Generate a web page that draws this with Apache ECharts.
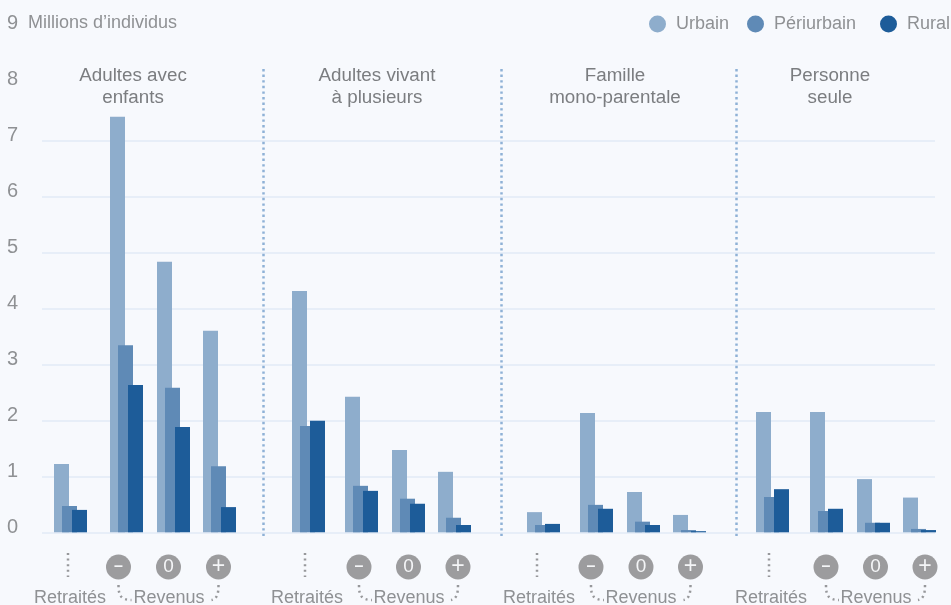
<!DOCTYPE html>
<html><head><meta charset="utf-8">
<style>html,body{margin:0;padding:0;background:#f7f9fd}#c{width:951px;height:605px}</style>
<script src="https://cdn.jsdelivr.net/npm/echarts@6/dist/echarts.min.js"></script>
</head><body><div id="c"></div>
<script>
const yTicks = [0,1,2,3,4,5,6,7,8,9];
const panels = ['Adultes avec\nenfants','Adultes vivant\nà plusieurs','Famille\nmono-parentale','Personne\nseule'];
const seriesNames = ['Urbain','Périurbain','Rural'];
const urbain =     [1.22,7.42,4.83,3.60, 4.31,2.42,1.47,1.08, 0.36,2.13,0.72,0.31, 2.15,2.15,0.95,0.62];
const periurbain = [0.47,3.34,2.58,1.18, 1.90,0.83,0.60,0.26, 0.13,0.49,0.19,0.04, 0.63,0.38,0.17,0.06];
const rural =      [0.40,2.63,1.88,0.45, 1.99,0.74,0.51,0.13, 0.15,0.42,0.13,0.02, 0.77,0.42,0.17,0.04];

// layout only
const slots = [54,110,157,203, 292,345,392,438, 527,580,627,673, 756,810,857,903];
const offsets = [7.5,15.5,25.5];
const colors = ['#8eadcc','#5f8ab6','#1d5c99'];
const dividers = [263.5,501,736];
const legendLeft = [644,742,875];
const font = '"Liberation Sans", Arial, sans-serif';
const grey = '#8f9194', titleGrey = '#7b7d80', markGrey = '#9c9c9e';
const titleX = [133,377,615,830];
const retraitesX = [70,307,539,771];
const revenusX = [169,409,641,876];
const dotX = [68,305,537,769];
const circles = [[118.5,168.5,218.5],[359,408.5,458],[591,641,690.5],[826,875.5,925]];

const graphic = [];
function text(x,y,t,size,fill,align){graphic.push({type:'text',x,y,silent:true,style:{text:t,font:size+'px '+font,fill,align:align||'center',verticalAlign:'middle',lineHeight:22}});}
text(28,23,'Millions d’individus',18,grey,'left');
panels.forEach((p,i)=>text(titleX[i],87,p,18.8,titleGrey));
const dotted={stroke:'#97989b',lineWidth:2.5,lineDash:[2,3.6],fill:null};
retraitesX.forEach((x,i)=>{
  text(x,598,'Retraités',18,grey);
  text(revenusX[i],598,'Revenus',18,grey);
  graphic.push({type:'line',silent:true,shape:{x1:dotX[i],y1:553,x2:dotX[i],y2:577},style:dotted});
  const c=circles[i];
  ['–','0','+'].forEach((s,k)=>{
    graphic.push({type:'circle',silent:true,shape:{cx:c[k],cy:567,r:12.5},style:{fill:markGrey}});
    graphic.push({type:'text',silent:true,x:c[k],y:567,style:{text:s,font:(k==0?'bold 16':k==1?'19':'23')+'px '+font,fill:'#f4f5f7',align:'center',verticalAlign:'middle'}});
  });
  const l=c[0], r=c[2];
  graphic.push({type:'bezierCurve',silent:true,shape:{x1:l,y1:585,cpx1:l,cpy1:595,cpx2:l+2,cpy2:600,x2:l+13,y2:600},style:dotted});
  graphic.push({type:'bezierCurve',silent:true,shape:{x1:r,y1:585,cpx1:r,cpy1:595,cpx2:r-2,cpy2:599,x2:r-7,y2:600},style:dotted});
});

const gridMarks = [0,1,2,3,4,5,6,7].map(v=>[{coord:[42,v]},{coord:[935,v]}]);
const dividerMarks = dividers.map(x=>[{x,y:69},{x,y:536}]);
function helper(data,lineStyle,z){return {type:'line',data:[],silent:true,z,markLine:{z,silent:true,symbol:'none',animation:false,label:{show:false},lineStyle,data}};}
function barSeries(i,vals){return {name:seriesNames[i],type:'bar',barWidth:15,barGap:'-100%',z:3+i,itemStyle:{color:colors[i]},
  data:vals.map((v,k)=>[slots[k]+offsets[i],v])};}

const chart = echarts.init(document.getElementById('c'),null,{renderer:'canvas'});
chart.setOption({
  animation:false,
  backgroundColor:'#f7f9fd',
  grid:{left:0,width:951,top:28.3,bottom:72.7,containLabel:false},
  xAxis:{type:'value',min:0,max:951,show:false},
  yAxis:{type:'value',min:0,max:9,interval:1,splitLine:{show:false},axisLine:{show:false},axisTick:{show:false},
    axisLabel:{inside:true,margin:7,align:'left',verticalAlign:'bottom',padding:[0,0,-5,0],fontFamily:font,fontSize:20,color:grey,
      formatter:v=>String(yTicks[v])}},
  legend:seriesNames.map((n,i)=>({left:legendLeft[i],top:10,itemWidth:17,itemHeight:17,icon:'circle',data:[n],selectedMode:false,
    textStyle:{fontFamily:font,fontSize:18,color:grey,padding:[0,0,0,5]}})),
  series:[
    helper(gridMarks,{color:'#e2eaf6',width:1.5,type:'solid'},1),
    helper(dividerMarks,{color:'#8fb1d6',width:2.5,type:[2.4,3.2]},2),
    barSeries(0,urbain),barSeries(1,periurbain),barSeries(2,rural)
  ],
  graphic
});
</script></body></html>
